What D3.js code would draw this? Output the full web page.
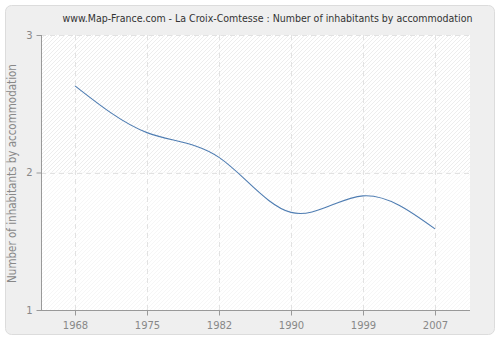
<!DOCTYPE html>
<html>
<head>
<meta charset="utf-8">
<script src="https://cdn.jsdelivr.net/npm/d3@7"></script>
<style>
  html, body { margin: 0; padding: 0; background: #ffffff; }
  svg { display: block; font-family: "DejaVu Sans", Verdana, sans-serif; }
</style>
</head>
<body>
<svg id="chart" width="500" height="340"></svg>
<script>
// Census years and average inhabitants per dwelling
const years = ["1968", "1975", "1982", "1990", "1999", "2007"];
const inhabitants = [2.63, 2.29, 2.11, 1.71, 1.83, 1.59];
const yTicks = [1, 2, 3];
const title = "www.Map-France.com - La Croix-Comtesse : Number of inhabitants by accommodation";
const yLabel = "Number of inhabitants by accommodation";

const svg = d3.select("#chart");
const W = 500, H = 340;
const plot = { left: 41, right: 470, top: 35, bottom: 310 };

// Outer rounded panel
svg.append("rect")
  .attr("x", 5.5).attr("y", 5.5)
  .attr("width", W - 11).attr("height", H - 11)
  .attr("rx", 6).attr("ry", 6)
  .attr("fill", "#efefef")
  .attr("stroke", "#dcdcdc");

// Hatch patterns for plot background
const defs = svg.append("defs");
function hatch(id, color) {
  const p = defs.append("pattern")
    .attr("id", id)
    .attr("patternUnits", "userSpaceOnUse")
    .attr("width", 4).attr("height", 4);
  p.append("rect").attr("width", 4).attr("height", 4).attr("fill", "#ffffff");
  p.append("path")
    .attr("d", "M-1,1 l2,-2 M0,4 l4,-4 M3,5 l2,-2")
    .attr("stroke", color).attr("stroke-width", 0.8);
}
hatch("hatchTop", "#e8e8e8");
hatch("hatchBottom", "#f4f4f4");

const x = d3.scalePoint().domain(years).range([39, 471]).padding(0.5);
const y = d3.scaleLinear().domain([1, 3]).range([plot.bottom, plot.top]);

svg.append("rect")
  .attr("x", plot.left).attr("y", plot.top)
  .attr("width", plot.right - plot.left).attr("height", y(2) - plot.top)
  .attr("fill", "url(#hatchTop)");
svg.append("rect")
  .attr("x", plot.left).attr("y", y(2))
  .attr("width", plot.right - plot.left).attr("height", plot.bottom - y(2))
  .attr("fill", "url(#hatchBottom)");

// Dashed grid
const grid = svg.append("g")
  .attr("stroke", "#e2e2e2")
  .attr("stroke-dasharray", "5,4")
  .attr("fill", "none");
grid.selectAll("line.v").data(years).join("line")
  .attr("x1", d => Math.round(x(d)) + 0.5).attr("x2", d => Math.round(x(d)) + 0.5)
  .attr("y1", plot.top).attr("y2", plot.bottom);
grid.selectAll("line.h").data(yTicks.filter(t => t > 1)).join("line")
  .attr("x1", plot.left).attr("x2", plot.right)
  .attr("y1", d => Math.round(y(d)) + 0.5).attr("y2", d => Math.round(y(d)) + 0.5);

// Axes
const xAxis = svg.append("g")
  .attr("transform", `translate(0,${plot.bottom + 0.5})`)
  .call(d3.axisBottom(x).tickSize(5).tickPadding(6).tickSizeOuter(0));
const yAxis = svg.append("g")
  .attr("transform", `translate(${plot.left + 0.5},0)`)
  .call(d3.axisLeft(y).tickValues(yTicks).tickFormat(d3.format("d")).tickSize(5).tickPadding(4).tickSizeOuter(0));

[xAxis, yAxis].forEach(g => {
  g.select(".domain").attr("stroke", "#999999");
  g.selectAll(".tick line").attr("stroke", "#999999");
  g.selectAll(".tick text").attr("fill", "#888888").attr("font-size", 10)
    .attr("font-family", "\"DejaVu Sans\", Verdana, sans-serif");
});
xAxis.select(".domain").attr("d", `M${plot.left},0H${plot.right}`);
yAxis.select(".domain").attr("d", `M0,${plot.top}V${plot.bottom}`);

// Data line
const line = d3.line()
  .x((d, i) => x(years[i]))
  .y(d => y(d))
  .curve(d3.curveNatural);
svg.append("path")
  .datum(inhabitants)
  .attr("d", line)
  .attr("fill", "none")
  .attr("stroke", "#4f7db2")
  .attr("stroke-width", 1.1);

// Title
svg.append("text")
  .attr("x", 267.5).attr("y", 22)
  .attr("text-anchor", "middle")
  .attr("font-size", 10.5)
  .attr("font-family", "\"DejaVu Sans Condensed\", \"DejaVu Sans\", sans-serif")
  .attr("fill", "#333333")
  .text(title);

// Y axis label
svg.append("text")
  .attr("transform", `translate(16,${(plot.top + plot.bottom) / 2 + 1}) rotate(-90)`)
  .attr("text-anchor", "middle")
  .attr("font-size", 11.5)
  .attr("font-family", "\"DejaVu Sans Condensed\", \"DejaVu Sans\", sans-serif")
  .attr("fill", "#888888")
  .text(yLabel);
</script>
</body>
</html>
